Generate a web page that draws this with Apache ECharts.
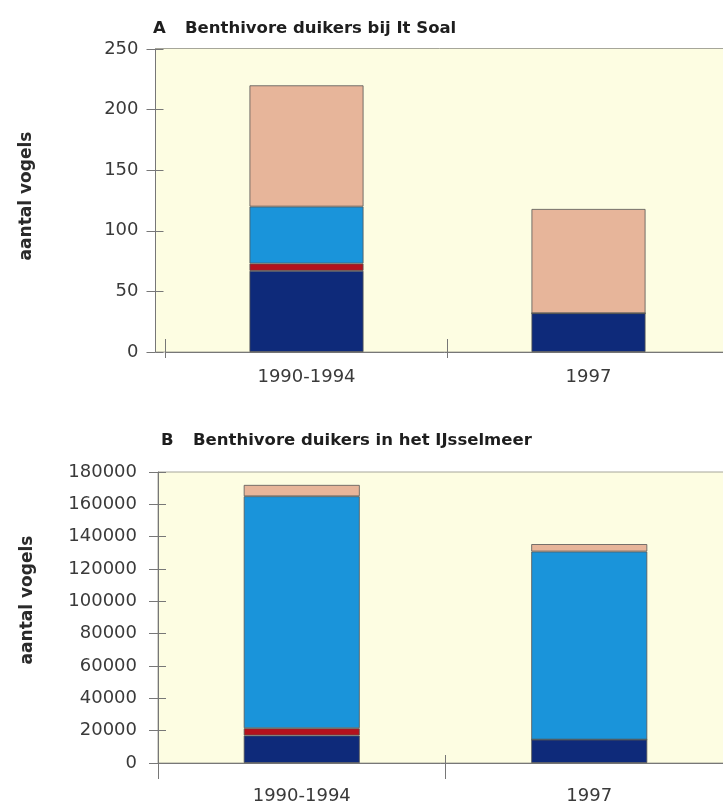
<!DOCTYPE html>
<html>
<head>
<meta charset="utf-8">
<script src="https://cdn.jsdelivr.net/npm/echarts@6/dist/echarts.min.js"></script>
<style>
    html, body { margin: 0; padding: 0; background: #ffffff; }
    #chart { width: 723px; height: 805px; }
</style>
</head>
<body>
<div id="chart"></div>
<script>
// categories on both panels
const periods = ["1990-1994", "1997"];

// A: It Soal (aantal vogels)
const soalNavy = [67, 32];
const soalRed = [6, 0];
const soalBlue = [47, 0];
const soalPeach = [100, 86];
const soalTicks = [0, 50, 100, 150, 200, 250];

// B: IJsselmeer (aantal vogels)
const meerNavy = [17000, 14500];
const meerRed = [4500, 0];
const meerBlue = [143500, 116300];
const meerPeach = [7000, 4600];
const meerTicks = [0, 20000, 40000, 60000, 80000, 100000, 120000, 140000, 160000, 180000];

const colors = ["#0e2a7a", "#b3121d", "#1a94da", "#e7b59a"];
const plotBg = "#fdfde2";
const axisGrey = "#777777";
const labelFont = "DejaVu Sans";

function yAxes(gridIndex, ticks, offset, margin) {
    const base = {
        type: "value",
        gridIndex: gridIndex,
        position: "left",
        offset: offset,
        min: ticks[0],
        max: ticks[ticks.length - 1],
        interval: ticks[1] - ticks[0],
        splitLine: { show: false }
    };
    return [
        Object.assign({}, base, {
            axisLine: { show: true, lineStyle: { color: axisGrey, width: 1 } },
            axisTick: { show: true, inside: false, length: 9, lineStyle: { color: axisGrey } },
            axisLabel: {
                margin: margin, color: "#3a3a3a", fontFamily: labelFont, fontSize: 18,
                formatter: function (v) { return String(v); }
            }
        }),
        Object.assign({}, base, {
            axisLine: { show: false },
            axisTick: { show: true, inside: true, length: 8, lineStyle: { color: axisGrey } },
            axisLabel: { show: false }
        })
    ];
}

function xAxes(gridIndex, margin, inLen, outLen) {
    const base = { type: "category", gridIndex: gridIndex, data: periods, position: "bottom" };
    return [
        Object.assign({}, base, {
            axisLine: { show: true, lineStyle: { color: axisGrey, width: 1 } },
            axisTick: { show: true, inside: false, length: outLen, lineStyle: { color: axisGrey } },
            axisLabel: { margin: margin, color: "#3a3a3a", fontFamily: labelFont, fontSize: 18 }
        }),
        Object.assign({}, base, {
            axisLine: { show: false },
            axisTick: { show: true, inside: true, length: inLen, lineStyle: { color: axisGrey } },
            axisLabel: { show: false }
        })
    ];
}

function stack(name, data, color, xi, yi, width) {
    return {
        name: name,
        type: "bar",
        stack: "s" + xi,
        xAxisIndex: xi,
        yAxisIndex: yi,
        barWidth: width,
        data: data,
        itemStyle: { color: color, borderColor: "#555555", borderWidth: 0.8 },
        z: 3
    };
}

const myChart = echarts.init(document.getElementById("chart"), null, { renderer: "canvas" });

const titleStyle = {
    fontFamily: "DejaVu Sans",
    fontWeight: "bold",
    fontSize: 16.5,
    color: "#1e1e1e",
    rich: {
        k: { fontFamily: "DejaVu Sans", fontWeight: "bold", fontSize: 16.5, color: "#1e1e1e", width: 32 }
    }
};

let option = {
    backgroundColor: "#ffffff",
    animation: false,
    title: [
        { text: "{k|A}Benthivore duikers bij It Soal", left: 153, top: 20, padding: 0, textStyle: titleStyle },
        { text: "{k|B}Benthivore duikers in het IJsselmeer", left: 161, top: 432, padding: 0, textStyle: titleStyle }
    ],
    graphic: [
        {
            type: "rect",
            z: -10,
            shape: { x: 155.5, y: 48.5, width: 620, height: 303.5 },
            style: { fill: plotBg, stroke: "#a6a69a", lineWidth: 1 }
        },
        {
            type: "text",
            x: 27, y: 196, rotation: Math.PI / 2,
            style: { text: "aantal vogels", fontFamily: labelFont, fontWeight: 600, fontSize: 17, fill: "#2a2a2a", align: "center", verticalAlign: "middle" }
        },
        {
            type: "text",
            x: 28, y: 600, rotation: Math.PI / 2,
            style: { text: "aantal vogels", fontFamily: labelFont, fontWeight: 600, fontSize: 17, fill: "#2a2a2a", align: "center", verticalAlign: "middle" }
        }
    ],
    grid: [
        { left: 165.5, top: 49, width: 564, height: 303, outerBoundsMode: "none", containLabel: false },
        {
            left: 158, top: 472, width: 575, height: 291, outerBoundsMode: "none", containLabel: false,
            show: true, backgroundColor: plotBg, borderColor: "#a6a69a", borderWidth: 1
        }
    ],
    xAxis: [].concat(
        xAxes(0, 16, 13, 6),
        xAxes(1, 24, 8, 16)
    ),
    yAxis: [].concat(
        yAxes(0, soalTicks, 10, 17),
        yAxes(1, meerTicks, 0, 21)
    ),
    series: [
        stack("reeks 1", soalNavy, colors[0], 0, 0, 114),
        stack("reeks 2", soalRed, colors[1], 0, 0, 114),
        stack("reeks 3", soalBlue, colors[2], 0, 0, 114),
        stack("reeks 4", soalPeach, colors[3], 0, 0, 114),
        stack("reeks 1", meerNavy, colors[0], 2, 2, 116),
        stack("reeks 2", meerRed, colors[1], 2, 2, 116),
        stack("reeks 3", meerBlue, colors[2], 2, 2, 116),
        stack("reeks 4", meerPeach, colors[3], 2, 2, 116)
    ]
};

myChart.setOption(option);
</script>
</body>
</html>
